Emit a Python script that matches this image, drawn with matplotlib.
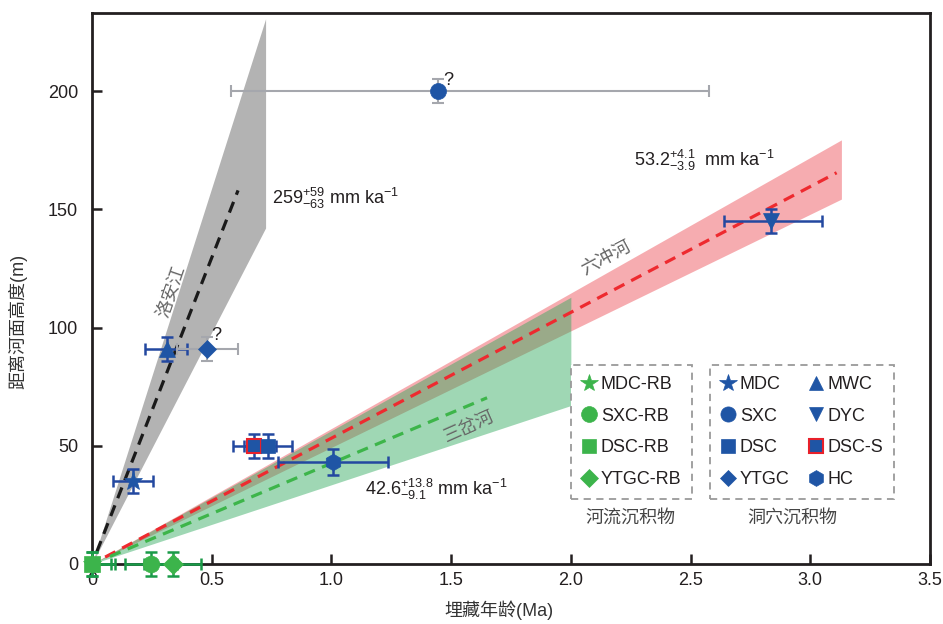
import matplotlib
matplotlib.use('Agg')
import matplotlib.pyplot as plt
from matplotlib.lines import Line2D
import numpy as np

plt.rcParams['font.family'] = ['Liberation Sans', 'Noto Sans CJK SC']
plt.rcParams['mathtext.fontset'] = 'custom'
plt.rcParams['mathtext.rm'] = 'Liberation Sans'
plt.rcParams['mathtext.it'] = 'Liberation Sans:italic'
plt.rcParams['mathtext.bf'] = 'Liberation Sans:bold'
plt.rcParams['axes.unicode_minus'] = True

# ---------------- data ----------------
cave_labels = ['MDC', 'SXC', 'DSC', 'YTGC', 'MWC', 'DYC', 'DSC-S', 'HC']
cave_age = [0.172, 1.447, 0.735, 0.482, 0.315, 2.836, 0.677, 1.005]
cave_age_err_lo = [0.086, 0.868, 0.10, 0.127, 0.094, 0.196, 0.088, 0.23]
cave_age_err_hi = [0.084, 1.13, 0.10, 0.129, 0.08, 0.214, 0.09, 0.23]
cave_height = [35, 200, 50, 91, 91, 145, 50, 43]
cave_height_err = [5, 5, 5, 5, 5, 5, 5, 5.5]
cave_uncertain = [False, True, False, True, False, False, False, False]

river_labels = ['MDC-RB', 'SXC-RB', 'DSC-RB', 'YTGC-RB']
river_age = [0.0, 0.246, 0.0, 0.337]
river_age_err_lo = [0.0, 0.108, 0.0, 0.12]
river_age_err_hi = [0.078, 0.108, 0.096, 0.12]
river_height = [0, 0, 0, 0]
river_height_err = [5, 5, 5, 5]

fit_names = ['洛安江', '六冲河', '三岔河']
fit_rate = [259, 53.2, 42.6]
fit_plus = [59, 4.1, 13.8]
fit_minus = [63, 3.9, 9.1]
band_xmax = [0.725, 3.13, 2.0]
line_xrange = [(0.02, 0.61), (0.055, 3.11), (0.075, 1.65)]

x_ticks = [0, 0.5, 1.0, 1.5, 2.0, 2.5, 3.0, 3.5]
x_ticklabels = ['0', '0.5', '1.0', '1.5', '2.0', '2.5', '3.0', '3.5']
y_ticks = [0, 50, 100, 150, 200]

# ---------------- styles ----------------
BLUE = '#1f55a5'
BLUE_ERR = '#2348a0'
GRAY_ERR = '#a5a7ad'
GREEN = '#3cb44b'
GREEN_ERR = '#1a9a48'
RED = '#e8202a'
TXT = '#231f20'

band_colors = ['#b3b3b3', '#e8202a', '#2aa85a']
band_alphas = [1.0, 0.37, 0.45]
line_colors = ['#1a1a1a', '#ee2a2f', '#3db54a']

cave_markers = {'MDC': '*', 'SXC': 'o', 'DSC': 's', 'YTGC': 'D',
                'MWC': '^', 'DYC': 'v', 'DSC-S': 's', 'HC': 'h'}
cave_msize = {'MDC': 14, 'SXC': 11.5, 'DSC': 10, 'YTGC': 9,
              'MWC': 11, 'DYC': 11, 'DSC-S': 10, 'HC': 12}
river_markers = {'MDC-RB': '*', 'SXC-RB': 'o', 'DSC-RB': 's', 'YTGC-RB': 'D'}
river_msize = {'MDC-RB': 14, 'SXC-RB': 12, 'DSC-RB': 11, 'YTGC-RB': 10}

fig = plt.figure(figsize=(9.43, 6.24), dpi=100)
ax = fig.add_axes([92/943, 1-564/624, (930-92)/943, (564-13)/624])

# bands and fitted lines
for i in range(3):
    xb = np.array([0.0, band_xmax[i]])
    ax.fill_between(xb, (fit_rate[i]-fit_minus[i])*xb, (fit_rate[i]+fit_plus[i])*xb,
                    color=band_colors[i], alpha=band_alphas[i], lw=0, zorder=1+0.1*i)
for i in range(3):
    xl = np.array(line_xrange[i])
    ax.plot(xl, fit_rate[i]*xl, color=line_colors[i], lw=2.3, ls=(0, (3.6, 2.4)),
            zorder=2, solid_capstyle='butt', dash_capstyle='butt')

# cave points
order = [0, 4, 3, 1, 6, 2, 7, 5]
for i in order:
    lab = cave_labels[i]
    ecol = GRAY_ERR if cave_uncertain[i] else BLUE_ERR
    elw = 1.5 if cave_uncertain[i] else 1.8
    mec = RED if lab == 'DSC-S' else BLUE
    ax.errorbar(cave_age[i], cave_height[i],
                xerr=[[cave_age_err_lo[i]], [cave_age_err_hi[i]]], yerr=cave_height_err[i],
                fmt='none', ecolor=ecol, elinewidth=elw, capsize=4, capthick=elw, zorder=3)
    ax.plot(cave_age[i], cave_height[i], marker=cave_markers[lab], ms=cave_msize[lab],
            mfc=BLUE, mec=mec, mew=1.5 if lab == 'DSC-S' else 0.5, ls='none', zorder=4)

# river points
for i in [1, 3, 0, 2]:
    lab = river_labels[i]
    ax.errorbar(river_age[i], river_height[i],
                xerr=[[river_age_err_lo[i]], [river_age_err_hi[i]]],
                yerr=river_height_err[i], fmt='none', ecolor=GREEN_ERR,
                elinewidth=1.8, capsize=4, capthick=1.8, zorder=5, clip_on=False)
    ax.plot(river_age[i], river_height[i], marker=river_markers[lab], ms=river_msize[lab],
            mfc=GREEN, mec=GREEN, mew=0.5, ls='none', zorder=6, clip_on=False)

# question marks
ax.text(1.468, 201, '?', fontsize=13, color=TXT, ha='left', va='bottom')
ax.text(0.5, 93, '?', fontsize=13, color=TXT, ha='left', va='bottom')

# rate annotations
ax.text(0.752, 154.5, r'$\mathregular{259^{+59}_{-63}}$ mm ka$^{\mathregular{-1}}$',
        fontsize=13, color=TXT, ha='left', va='center')
ax.text(2.264, 170.8, r'$\mathregular{53.2^{+4.1}_{-3.9}}$  mm ka$^{\mathregular{-1}}$',
        fontsize=13, color=TXT, ha='left', va='center')
ax.text(1.14, 31.7, r'$\mathregular{42.6^{+13.8}_{-9.1}}$ mm ka$^{\mathregular{-1}}$',
        fontsize=13, color=TXT, ha='left', va='center')

# river names
ax.text(0.334, 115, fit_names[0], rotation=71, fontsize=13, color='#666666',
        ha='center', va='center', rotation_mode='anchor')
ax.text(2.147, 129.4, fit_names[1], rotation=28, fontsize=13, color='#666666',
        ha='center', va='center', rotation_mode='anchor')
ax.text(1.575, 57.9, fit_names[2], rotation=24, fontsize=13, color='#666666',
        ha='center', va='center', rotation_mode='anchor')

# axes styling
ax.set_xlim(0, 3.5)
ax.set_ylim(0, 233)
ax.set_xticks(x_ticks)
ax.set_xticklabels(x_ticklabels)
ax.set_yticks(y_ticks)
for s in ax.spines.values():
    s.set_linewidth(2.0)
    s.set_color(TXT)
    s.set_zorder(2.5)
ax.tick_params(axis='both', direction='in', length=7, width=1.8, color=TXT,
               labelsize=13, labelcolor=TXT)
ax.tick_params(axis='x', pad=6)
ax.tick_params(axis='y', pad=10)

ax.set_xlabel('埋藏年龄(Ma)', fontsize=13, color='#333333')
ax.xaxis.set_label_coords(0.486, -0.066)
ax.set_ylabel('距离河面高度(m)', fontsize=13, color='#333333')
ax.yaxis.set_label_coords(-0.0776, 0.44)

# legends
def mk(marker, ms, mfc, mec, mew=0.5):
    return Line2D([], [], marker=marker, ms=ms, mfc=mfc, mec=mec, mew=mew, ls='none')

river_handles = [mk(river_markers[l], river_msize[l]*0.95, GREEN, GREEN) for l in river_labels]
cave_leg_order = ['MDC', 'SXC', 'DSC', 'YTGC', 'MWC', 'DYC', 'DSC-S', 'HC']
cave_handles = [mk(cave_markers[l], cave_msize[l]*0.95, BLUE, RED if l == 'DSC-S' else BLUE,
                   1.5 if l == 'DSC-S' else 0.5) for l in cave_leg_order]

leg_kw = dict(loc='upper left', bbox_transform=fig.transFigure, borderaxespad=0,
              frameon=True, fancybox=False, fontsize=13, handlelength=0.8,
              handletextpad=0.25, labelspacing=0.82, borderpad=0.6, framealpha=1)
leg1 = fig.legend(river_handles, river_labels, bbox_to_anchor=(571/943, 1-365/624), **leg_kw)
leg2 = fig.legend(cave_handles, cave_leg_order, bbox_to_anchor=(710/943, 1-365/624),
                  ncol=2, columnspacing=1.05, **leg_kw)
for lg in (leg1, leg2):
    fr = lg.get_frame()
    fr.set_linestyle((0, (4, 3)))
    fr.set_edgecolor('#9a9a9a')
    fr.set_linewidth(1.3)
    for t in lg.get_texts():
        t.set_color(TXT)

fig.text(630/943, 1-518/624, '河流沉积物', fontsize=13, color='#444444', ha='center', va='center')
fig.text(792/943, 1-518/624, '洞穴沉积物', fontsize=13, color='#444444', ha='center', va='center')

fig.savefig('out.png', dpi=100)
